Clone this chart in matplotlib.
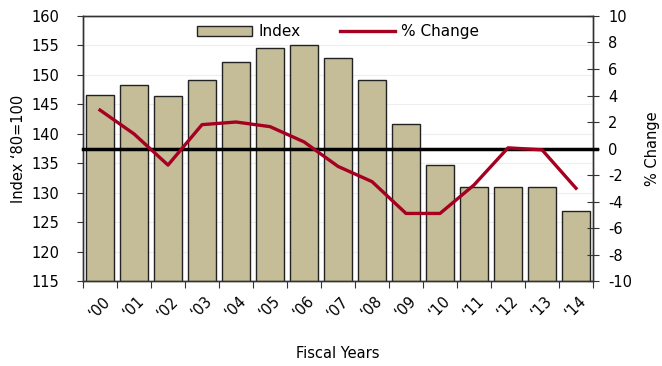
import matplotlib

matplotlib.use("Agg")
import matplotlib.pyplot as plt
import numpy as np
from matplotlib.lines import Line2D
from matplotlib.patches import Patch

# Data
years = ["\u201800", "\u201801", "\u201802", "\u201803", "\u201804", "\u201805", "\u201806", "\u201807",
         "\u201808", "\u201809", "\u201810", "\u201811", "\u201812", "\u201813", "\u201814"]
index_vals = [146.6, 148.2, 146.5, 149.2, 152.2, 154.5, 155.0, 152.9,
              149.1, 141.7, 134.7, 130.9, 130.9, 130.9, 126.9]
pct_change = [2.9, 1.1, -1.25, 1.8, 2.0, 1.65, 0.5, -1.35,
              -2.5, -4.9, -4.9, -2.75, 0.05, -0.1, -3.0]

bar_color = "#C4BD97"
line_color = "#A50021"

plt.rcParams["font.family"] = ["DejaVu Sans"]
plt.rcParams["font.size"] = 10.5
plt.rcParams["axes.unicode_minus"] = False

fig = plt.figure(figsize=(6.62, 3.66), dpi=100)
ax = fig.add_axes([0.1254, 0.2322, 0.7704, 0.7241])
ax2 = ax.twinx()

x = np.arange(len(years))
ax.bar(x, index_vals, width=0.83, color=bar_color, edgecolor="#222222", linewidth=1.0, zorder=2)
ax.set_ylim(115, 160)
ax.set_yticks(range(115, 161, 5))
ax.set_xlim(-0.5, len(years) - 0.5)
ax.grid(axis="y", color="#EEEEEE", linewidth=0.8, zorder=0)
ax.set_axisbelow(True)

# ticks at category edges, labels at centres
ax.set_xticks(np.arange(len(years) + 1) - 0.5)
ax.set_xticklabels([])
ax.set_xticks(x, minor=True)
ax.set_xticklabels(years, minor=True, rotation=45, ha="center", va="top")
ax.tick_params(axis="x", which="minor", length=0, pad=9)
ax.tick_params(axis="x", which="major", length=5, direction="out", color="#333333")
ax.tick_params(axis="y", length=4, direction="out", color="#333333", pad=13)

ax.set_ylabel("Index \u201880=100", labelpad=4)
ax.set_xlabel("Fiscal Years", labelpad=18)

ax2.set_ylim(-10, 10)
ax2.set_yticks(range(-10, 11, 2))
ax2.axhline(0, color="black", linewidth=2.5, zorder=3, xmin=0, xmax=1.008, clip_on=False)
ax2.plot(x, pct_change, color=line_color, linewidth=2.4, zorder=4)
ax2.tick_params(axis="y", length=8, direction="inout", color="#333333", pad=7)
ax2.set_ylabel("% Change", labelpad=9)

for a in (ax, ax2):
    for s in a.spines.values():
        s.set_color("#333333")
        s.set_linewidth(1.0)

handles = [Patch(facecolor=bar_color, edgecolor="#222222", linewidth=1.0),
           Line2D([0], [0], color=line_color, linewidth=2.4)]
ax2.legend(handles, ["Index", "% Change"], loc="upper center", bbox_to_anchor=(0.5, 1.0),
           ncol=2, frameon=False, handlelength=3.6, handleheight=0.6, columnspacing=2.6,
           handletextpad=0.4, borderaxespad=0.15, fontsize=11)

fig.savefig("out.png", dpi=100)
